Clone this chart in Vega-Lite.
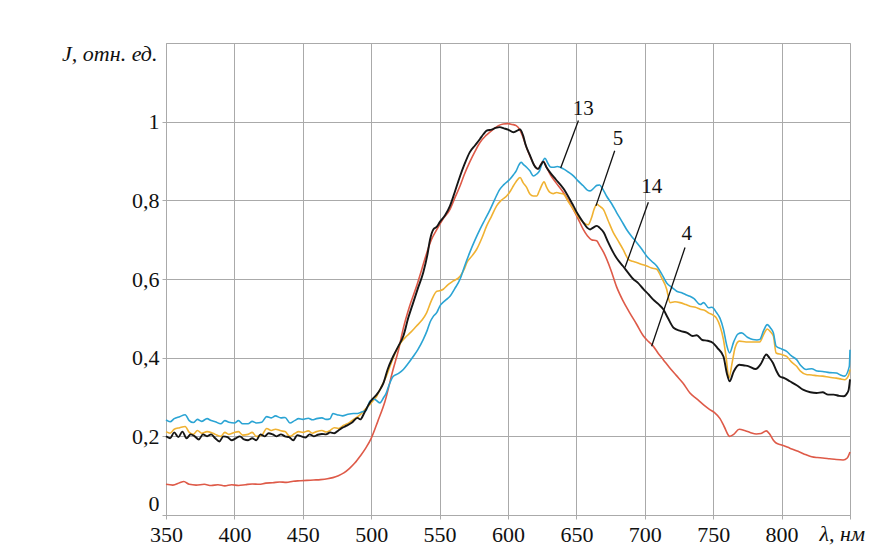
{
  "$schema": "https://vega.github.io/schema/vega-lite/v6.json",
  "width": 684,
  "height": 472,
  "autosize": {"type": "none"},
  "padding": {"left": 166, "top": 43, "right": 29, "bottom": 43},
  "background": "white",
  "config": {
    "font": "Liberation Serif",
    "view": {"stroke": "#aaaaaa", "strokeWidth": 1},
    "axis": {
      "gridColor": "#aaaaaa",
      "gridOpacity": 1,
      "domainColor": "#aaaaaa",
      "tickColor": "#aaaaaa",
      "tickSize": 4,
      "labelFont": "Liberation Serif",
      "labelFontSize": 22,
      "labelColor": "#111111",
      "titleFont": "Liberation Serif",
      "titleFontSize": 22,
      "titleColor": "#111111",
      "titleFontWeight": "normal"
    }
  },
  "datasets": {
    "curves": [
      {"s":"4","x":350,"y":0.078},{"s":"4","x":355,"y":0.076},{"s":"4","x":360,"y":0.082},{"s":"4","x":363,"y":0.085},{"s":"4","x":367,"y":0.078},{"s":"4","x":372,"y":0.076},{"s":"4","x":378,"y":0.078},{"s":"4","x":383,"y":0.075},{"s":"4","x":388,"y":0.077},{"s":"4","x":393,"y":0.074},{"s":"4","x":398,"y":0.077},{"s":"4","x":403,"y":0.075},{"s":"4","x":408,"y":0.077},{"s":"4","x":413,"y":0.079},{"s":"4","x":418,"y":0.078},{"s":"4","x":423,"y":0.081},{"s":"4","x":428,"y":0.082},{"s":"4","x":433,"y":0.084},{"s":"4","x":438,"y":0.083},{"s":"4","x":443,"y":0.086},{"s":"4","x":448,"y":0.087},{"s":"4","x":453,"y":0.088},{"s":"4","x":458,"y":0.089},{"s":"4","x":463,"y":0.09},{"s":"4","x":468,"y":0.092},{"s":"4","x":472,"y":0.095},{"s":"4","x":476,"y":0.1},{"s":"4","x":480,"y":0.107},{"s":"4","x":484,"y":0.118},{"s":"4","x":488,"y":0.132},{"s":"4","x":492,"y":0.15},{"s":"4","x":496,"y":0.17},{"s":"4","x":500,"y":0.195},{"s":"4","x":505,"y":0.24},{"s":"4","x":510,"y":0.288},{"s":"4","x":516,"y":0.37},{"s":"4","x":520,"y":0.42},{"s":"4","x":523.5,"y":0.475},{"s":"4","x":528,"y":0.53},{"s":"4","x":533,"y":0.58},{"s":"4","x":537,"y":0.625},{"s":"4","x":540.5,"y":0.665},{"s":"4","x":544,"y":0.7},{"s":"4","x":548,"y":0.726},{"s":"4","x":552,"y":0.75},{"s":"4","x":557.6,"y":0.777},{"s":"4","x":561,"y":0.805},{"s":"4","x":565,"y":0.837},{"s":"4","x":568,"y":0.865},{"s":"4","x":572,"y":0.897},{"s":"4","x":576,"y":0.925},{"s":"4","x":579.5,"y":0.947},{"s":"4","x":584,"y":0.965},{"s":"4","x":589,"y":0.98},{"s":"4","x":593,"y":0.99},{"s":"4","x":596.5,"y":0.994},{"s":"4","x":600,"y":0.995},{"s":"4","x":603,"y":0.993},{"s":"4","x":606,"y":0.99},{"s":"4","x":608.6,"y":0.98},{"s":"4","x":611,"y":0.96},{"s":"4","x":614,"y":0.93},{"s":"4","x":617,"y":0.905},{"s":"4","x":620,"y":0.885},{"s":"4","x":622,"y":0.88},{"s":"4","x":625.8,"y":0.9},{"s":"4","x":628,"y":0.885},{"s":"4","x":631,"y":0.865},{"s":"4","x":635,"y":0.845},{"s":"4","x":640.5,"y":0.82},{"s":"4","x":644,"y":0.8},{"s":"4","x":647.7,"y":0.777},{"s":"4","x":651,"y":0.755},{"s":"4","x":655,"y":0.726},{"s":"4","x":658,"y":0.71},{"s":"4","x":661,"y":0.7},{"s":"4","x":664.8,"y":0.697},{"s":"4","x":667,"y":0.685},{"s":"4","x":670,"y":0.667},{"s":"4","x":675,"y":0.625},{"s":"4","x":679.4,"y":0.58},{"s":"4","x":684,"y":0.545},{"s":"4","x":689,"y":0.514},{"s":"4","x":694,"y":0.485},{"s":"4","x":699,"y":0.455},{"s":"4","x":703,"y":0.44},{"s":"4","x":706,"y":0.43},{"s":"4","x":710,"y":0.41},{"s":"4","x":713.5,"y":0.395},{"s":"4","x":718,"y":0.375},{"s":"4","x":723,"y":0.355},{"s":"4","x":728,"y":0.335},{"s":"4","x":733,"y":0.31},{"s":"4","x":738,"y":0.295},{"s":"4","x":743,"y":0.28},{"s":"4","x":747.5,"y":0.268},{"s":"4","x":751,"y":0.26},{"s":"4","x":755,"y":0.245},{"s":"4","x":758,"y":0.225},{"s":"4","x":762,"y":0.2},{"s":"4","x":765,"y":0.205},{"s":"4","x":769,"y":0.218},{"s":"4","x":773,"y":0.215},{"s":"4","x":777,"y":0.21},{"s":"4","x":781.5,"y":0.206},{"s":"4","x":785,"y":0.207},{"s":"4","x":788.8,"y":0.214},{"s":"4","x":791,"y":0.207},{"s":"4","x":794,"y":0.19},{"s":"4","x":796,"y":0.183},{"s":"4","x":800,"y":0.178},{"s":"4","x":806,"y":0.17},{"s":"4","x":812,"y":0.162},{"s":"4","x":818,"y":0.153},{"s":"4","x":822,"y":0.148},{"s":"4","x":826,"y":0.146},{"s":"4","x":830,"y":0.145},{"s":"4","x":835,"y":0.143},{"s":"4","x":840,"y":0.141},{"s":"4","x":845,"y":0.14},{"s":"4","x":848,"y":0.145},{"s":"4","x":850,"y":0.16},

      {"s":"5","x":350,"y":0.212},{"s":"5","x":353,"y":0.208},{"s":"5","x":356,"y":0.218},{"s":"5","x":360,"y":0.222},{"s":"5","x":364,"y":0.225},{"s":"5","x":367,"y":0.21},{"s":"5","x":370,"y":0.205},{"s":"5","x":373,"y":0.215},{"s":"5","x":376,"y":0.208},{"s":"5","x":380,"y":0.212},{"s":"5","x":383,"y":0.21},{"s":"5","x":386,"y":0.205},{"s":"5","x":390,"y":0.2},{"s":"5","x":393,"y":0.21},{"s":"5","x":396,"y":0.205},{"s":"5","x":400,"y":0.21},{"s":"5","x":403,"y":0.212},{"s":"5","x":406,"y":0.203},{"s":"5","x":410,"y":0.205},{"s":"5","x":413,"y":0.21},{"s":"5","x":416,"y":0.2},{"s":"5","x":420,"y":0.203},{"s":"5","x":423.6,"y":0.22},{"s":"5","x":427,"y":0.215},{"s":"5","x":430,"y":0.218},{"s":"5","x":434,"y":0.214},{"s":"5","x":437,"y":0.212},{"s":"5","x":440.6,"y":0.2},{"s":"5","x":444,"y":0.207},{"s":"5","x":447,"y":0.212},{"s":"5","x":450,"y":0.21},{"s":"5","x":454,"y":0.214},{"s":"5","x":457,"y":0.208},{"s":"5","x":460,"y":0.212},{"s":"5","x":464,"y":0.215},{"s":"5","x":467,"y":0.211},{"s":"5","x":470,"y":0.215},{"s":"5","x":473,"y":0.222},{"s":"5","x":476,"y":0.22},{"s":"5","x":480,"y":0.228},{"s":"5","x":484,"y":0.235},{"s":"5","x":488,"y":0.245},{"s":"5","x":492,"y":0.255},{"s":"5","x":496,"y":0.27},{"s":"5","x":500,"y":0.285},{"s":"5","x":504,"y":0.302},{"s":"5","x":508,"y":0.33},{"s":"5","x":511,"y":0.352},{"s":"5","x":515,"y":0.39},{"s":"5","x":518.6,"y":0.42},{"s":"5","x":522,"y":0.44},{"s":"5","x":526,"y":0.455},{"s":"5","x":529,"y":0.465},{"s":"5","x":533,"y":0.48},{"s":"5","x":537,"y":0.495},{"s":"5","x":540.5,"y":0.514},{"s":"5","x":544,"y":0.545},{"s":"5","x":548,"y":0.569},{"s":"5","x":550,"y":0.57},{"s":"5","x":552.7,"y":0.574},{"s":"5","x":556,"y":0.585},{"s":"5","x":560,"y":0.595},{"s":"5","x":565,"y":0.607},{"s":"5","x":568,"y":0.625},{"s":"5","x":570,"y":0.642},{"s":"5","x":574,"y":0.66},{"s":"5","x":577,"y":0.675},{"s":"5","x":581,"y":0.705},{"s":"5","x":584.4,"y":0.735},{"s":"5","x":588,"y":0.76},{"s":"5","x":591.7,"y":0.786},{"s":"5","x":595,"y":0.8},{"s":"5","x":599,"y":0.811},{"s":"5","x":602,"y":0.825},{"s":"5","x":604,"y":0.837},{"s":"5","x":606,"y":0.848},{"s":"5","x":608.8,"y":0.858},{"s":"5","x":611,"y":0.845},{"s":"5","x":613.6,"y":0.833},{"s":"5","x":616,"y":0.816},{"s":"5","x":618.5,"y":0.811},{"s":"5","x":621,"y":0.811},{"s":"5","x":623,"y":0.825},{"s":"5","x":626.4,"y":0.847},{"s":"5","x":628,"y":0.835},{"s":"5","x":630.7,"y":0.82},{"s":"5","x":633,"y":0.817},{"s":"5","x":635.6,"y":0.82},{"s":"5","x":638,"y":0.818},{"s":"5","x":640.5,"y":0.816},{"s":"5","x":644,"y":0.797},{"s":"5","x":647.8,"y":0.777},{"s":"5","x":651,"y":0.76},{"s":"5","x":655,"y":0.744},{"s":"5","x":658.6,"y":0.738},{"s":"5","x":661,"y":0.755},{"s":"5","x":663,"y":0.778},{"s":"5","x":665,"y":0.79},{"s":"5","x":667,"y":0.785},{"s":"5","x":669.7,"y":0.777},{"s":"5","x":673,"y":0.75},{"s":"5","x":677,"y":0.718},{"s":"5","x":680,"y":0.7},{"s":"5","x":684,"y":0.676},{"s":"5","x":688,"y":0.65},{"s":"5","x":691,"y":0.645},{"s":"5","x":694,"y":0.642},{"s":"5","x":698,"y":0.637},{"s":"5","x":701.4,"y":0.633},{"s":"5","x":705,"y":0.628},{"s":"5","x":708.7,"y":0.625},{"s":"5","x":712,"y":0.605},{"s":"5","x":716,"y":0.574},{"s":"5","x":718.4,"y":0.54},{"s":"5","x":722,"y":0.542},{"s":"5","x":725.7,"y":0.54},{"s":"5","x":730,"y":0.535},{"s":"5","x":733,"y":0.531},{"s":"5","x":737,"y":0.528},{"s":"5","x":740.5,"y":0.523},{"s":"5","x":744,"y":0.52},{"s":"5","x":746.6,"y":0.514},{"s":"5","x":750,"y":0.508},{"s":"5","x":752.5,"y":0.5},{"s":"5","x":755,"y":0.48},{"s":"5","x":757.5,"y":0.446},{"s":"5","x":759.5,"y":0.4},{"s":"5","x":761.5,"y":0.348},{"s":"5","x":764,"y":0.39},{"s":"5","x":766,"y":0.425},{"s":"5","x":769,"y":0.442},{"s":"5","x":774,"y":0.44},{"s":"5","x":779,"y":0.44},{"s":"5","x":784,"y":0.44},{"s":"5","x":787,"y":0.46},{"s":"5","x":789.5,"y":0.473},{"s":"5","x":792,"y":0.465},{"s":"5","x":794,"y":0.455},{"s":"5","x":796,"y":0.412},{"s":"5","x":800,"y":0.408},{"s":"5","x":803.7,"y":0.403},{"s":"5","x":807,"y":0.39},{"s":"5","x":811,"y":0.378},{"s":"5","x":814,"y":0.365},{"s":"5","x":818,"y":0.357},{"s":"5","x":822,"y":0.356},{"s":"5","x":826,"y":0.354},{"s":"5","x":830,"y":0.353},{"s":"5","x":835,"y":0.35},{"s":"5","x":840,"y":0.348},{"s":"5","x":843,"y":0.346},{"s":"5","x":846,"y":0.344},{"s":"5","x":849,"y":0.355},{"s":"5","x":850,"y":0.37},

      {"s":"13","x":350,"y":0.242},{"s":"13","x":353,"y":0.237},{"s":"13","x":356,"y":0.245},{"s":"13","x":360,"y":0.25},{"s":"13","x":364,"y":0.255},{"s":"13","x":367,"y":0.24},{"s":"13","x":370,"y":0.235},{"s":"13","x":373,"y":0.243},{"s":"13","x":376,"y":0.238},{"s":"13","x":380,"y":0.245},{"s":"13","x":383,"y":0.24},{"s":"13","x":386,"y":0.237},{"s":"13","x":390,"y":0.232},{"s":"13","x":393,"y":0.24},{"s":"13","x":396,"y":0.236},{"s":"13","x":400,"y":0.234},{"s":"13","x":403,"y":0.24},{"s":"13","x":406,"y":0.232},{"s":"13","x":410,"y":0.232},{"s":"13","x":413,"y":0.238},{"s":"13","x":416,"y":0.234},{"s":"13","x":420,"y":0.236},{"s":"13","x":423.6,"y":0.25},{"s":"13","x":427,"y":0.247},{"s":"13","x":430,"y":0.252},{"s":"13","x":434,"y":0.247},{"s":"13","x":437,"y":0.248},{"s":"13","x":440.6,"y":0.234},{"s":"13","x":444,"y":0.24},{"s":"13","x":447,"y":0.245},{"s":"13","x":450,"y":0.243},{"s":"13","x":454,"y":0.246},{"s":"13","x":457,"y":0.242},{"s":"13","x":460,"y":0.245},{"s":"13","x":464,"y":0.247},{"s":"13","x":467,"y":0.243},{"s":"13","x":470,"y":0.245},{"s":"13","x":472,"y":0.258},{"s":"13","x":475,"y":0.255},{"s":"13","x":479,"y":0.252},{"s":"13","x":483,"y":0.256},{"s":"13","x":487,"y":0.258},{"s":"13","x":490,"y":0.258},{"s":"13","x":493,"y":0.262},{"s":"13","x":496,"y":0.265},{"s":"13","x":499,"y":0.289},{"s":"13","x":502,"y":0.295},{"s":"13","x":506.4,"y":0.285},{"s":"13","x":509,"y":0.298},{"s":"13","x":511,"y":0.31},{"s":"13","x":513,"y":0.33},{"s":"13","x":516,"y":0.352},{"s":"13","x":520,"y":0.36},{"s":"13","x":523.5,"y":0.37},{"s":"13","x":527,"y":0.385},{"s":"13","x":530.7,"y":0.403},{"s":"13","x":534,"y":0.42},{"s":"13","x":538,"y":0.446},{"s":"13","x":541,"y":0.47},{"s":"13","x":543,"y":0.49},{"s":"13","x":545.4,"y":0.505},{"s":"13","x":548,"y":0.515},{"s":"13","x":550,"y":0.53},{"s":"13","x":554,"y":0.545},{"s":"13","x":557.6,"y":0.556},{"s":"13","x":561,"y":0.575},{"s":"13","x":565,"y":0.6},{"s":"13","x":568,"y":0.63},{"s":"13","x":572,"y":0.667},{"s":"13","x":576,"y":0.7},{"s":"13","x":579.5,"y":0.726},{"s":"13","x":583,"y":0.75},{"s":"13","x":587,"y":0.777},{"s":"13","x":590,"y":0.8},{"s":"13","x":594,"y":0.828},{"s":"13","x":597,"y":0.84},{"s":"13","x":601.5,"y":0.854},{"s":"13","x":604,"y":0.865},{"s":"13","x":606,"y":0.875},{"s":"13","x":608,"y":0.89},{"s":"13","x":609.6,"y":0.897},{"s":"13","x":611,"y":0.892},{"s":"13","x":613.6,"y":0.884},{"s":"13","x":616,"y":0.875},{"s":"13","x":618.5,"y":0.862},{"s":"13","x":621,"y":0.867},{"s":"13","x":623,"y":0.875},{"s":"13","x":625,"y":0.895},{"s":"13","x":627,"y":0.907},{"s":"13","x":629,"y":0.895},{"s":"13","x":631,"y":0.885},{"s":"13","x":633,"y":0.884},{"s":"13","x":636,"y":0.886},{"s":"13","x":640.5,"y":0.88},{"s":"13","x":644,"y":0.872},{"s":"13","x":647.8,"y":0.862},{"s":"13","x":651,"y":0.85},{"s":"13","x":655,"y":0.837},{"s":"13","x":658,"y":0.826},{"s":"13","x":660,"y":0.824},{"s":"13","x":663,"y":0.832},{"s":"13","x":665,"y":0.838},{"s":"13","x":667,"y":0.839},{"s":"13","x":669,"y":0.83},{"s":"13","x":672,"y":0.811},{"s":"13","x":676,"y":0.79},{"s":"13","x":679.4,"y":0.769},{"s":"13","x":683,"y":0.748},{"s":"13","x":686.7,"y":0.726},{"s":"13","x":690,"y":0.71},{"s":"13","x":694,"y":0.693},{"s":"13","x":698,"y":0.675},{"s":"13","x":701.4,"y":0.658},{"s":"13","x":705,"y":0.645},{"s":"13","x":708.7,"y":0.633},{"s":"13","x":712,"y":0.615},{"s":"13","x":716,"y":0.59},{"s":"13","x":720,"y":0.578},{"s":"13","x":723.3,"y":0.569},{"s":"13","x":727,"y":0.565},{"s":"13","x":730,"y":0.56},{"s":"13","x":733,"y":0.556},{"s":"13","x":736,"y":0.55},{"s":"13","x":740.5,"y":0.535},{"s":"13","x":743,"y":0.54},{"s":"13","x":746.6,"y":0.527},{"s":"13","x":749,"y":0.528},{"s":"13","x":752.5,"y":0.514},{"s":"13","x":755,"y":0.5},{"s":"13","x":757.5,"y":0.472},{"s":"13","x":760,"y":0.43},{"s":"13","x":762,"y":0.412},{"s":"13","x":765,"y":0.44},{"s":"13","x":768,"y":0.46},{"s":"13","x":770.8,"y":0.463},{"s":"13","x":775,"y":0.452},{"s":"13","x":779,"y":0.446},{"s":"13","x":782,"y":0.445},{"s":"13","x":784,"y":0.446},{"s":"13","x":787,"y":0.47},{"s":"13","x":789.5,"y":0.484},{"s":"13","x":792,"y":0.475},{"s":"13","x":794,"y":0.463},{"s":"13","x":796,"y":0.429},{"s":"13","x":800,"y":0.422},{"s":"13","x":803.7,"y":0.416},{"s":"13","x":807,"y":0.405},{"s":"13","x":811,"y":0.395},{"s":"13","x":814,"y":0.38},{"s":"13","x":818,"y":0.37},{"s":"13","x":822,"y":0.372},{"s":"13","x":826,"y":0.366},{"s":"13","x":830,"y":0.365},{"s":"13","x":835,"y":0.362},{"s":"13","x":840,"y":0.361},{"s":"13","x":843,"y":0.356},{"s":"13","x":846,"y":0.353},{"s":"13","x":849.5,"y":0.378},{"s":"13","x":850,"y":0.42},

      {"s":"14","x":350,"y":0.2},{"s":"14","x":353,"y":0.195},{"s":"14","x":356,"y":0.21},{"s":"14","x":359,"y":0.198},{"s":"14","x":362,"y":0.212},{"s":"14","x":365,"y":0.195},{"s":"14","x":368,"y":0.205},{"s":"14","x":371,"y":0.2},{"s":"14","x":374,"y":0.192},{"s":"14","x":377,"y":0.205},{"s":"14","x":380,"y":0.2},{"s":"14","x":383,"y":0.205},{"s":"14","x":386,"y":0.195},{"s":"14","x":389,"y":0.187},{"s":"14","x":392,"y":0.2},{"s":"14","x":395,"y":0.198},{"s":"14","x":398,"y":0.19},{"s":"14","x":401,"y":0.195},{"s":"14","x":404,"y":0.2},{"s":"14","x":407,"y":0.192},{"s":"14","x":410,"y":0.19},{"s":"14","x":413,"y":0.195},{"s":"14","x":416,"y":0.19},{"s":"14","x":419,"y":0.205},{"s":"14","x":422,"y":0.2},{"s":"14","x":425,"y":0.208},{"s":"14","x":428,"y":0.205},{"s":"14","x":431,"y":0.2},{"s":"14","x":434,"y":0.205},{"s":"14","x":437,"y":0.2},{"s":"14","x":440,"y":0.198},{"s":"14","x":443,"y":0.19},{"s":"14","x":446,"y":0.203},{"s":"14","x":449,"y":0.2},{"s":"14","x":452,"y":0.197},{"s":"14","x":455,"y":0.205},{"s":"14","x":458,"y":0.2},{"s":"14","x":461,"y":0.204},{"s":"14","x":464,"y":0.206},{"s":"14","x":467,"y":0.205},{"s":"14","x":470,"y":0.21},{"s":"14","x":473,"y":0.208},{"s":"14","x":476,"y":0.215},{"s":"14","x":479,"y":0.222},{"s":"14","x":482,"y":0.227},{"s":"14","x":486,"y":0.235},{"s":"14","x":490,"y":0.247},{"s":"14","x":492,"y":0.243},{"s":"14","x":495,"y":0.26},{"s":"14","x":498,"y":0.28},{"s":"14","x":501,"y":0.295},{"s":"14","x":504,"y":0.306},{"s":"14","x":507,"y":0.322},{"s":"14","x":509,"y":0.336},{"s":"14","x":512,"y":0.37},{"s":"14","x":516,"y":0.403},{"s":"14","x":520,"y":0.43},{"s":"14","x":523.5,"y":0.455},{"s":"14","x":527,"y":0.5},{"s":"14","x":530.7,"y":0.54},{"s":"14","x":534,"y":0.575},{"s":"14","x":538,"y":0.616},{"s":"14","x":541,"y":0.66},{"s":"14","x":543,"y":0.7},{"s":"14","x":545.4,"y":0.726},{"s":"14","x":548,"y":0.733},{"s":"14","x":550,"y":0.744},{"s":"14","x":554,"y":0.762},{"s":"14","x":557.6,"y":0.786},{"s":"14","x":561,"y":0.82},{"s":"14","x":565,"y":0.862},{"s":"14","x":568,"y":0.89},{"s":"14","x":572,"y":0.922},{"s":"14","x":576,"y":0.94},{"s":"14","x":579.5,"y":0.956},{"s":"14","x":582,"y":0.968},{"s":"14","x":584.4,"y":0.977},{"s":"14","x":588,"y":0.98},{"s":"14","x":591,"y":0.984},{"s":"14","x":594,"y":0.986},{"s":"14","x":597,"y":0.983},{"s":"14","x":600,"y":0.98},{"s":"14","x":604,"y":0.973},{"s":"14","x":606,"y":0.976},{"s":"14","x":608.8,"y":0.98},{"s":"14","x":611,"y":0.965},{"s":"14","x":613,"y":0.94},{"s":"14","x":616,"y":0.915},{"s":"14","x":619,"y":0.89},{"s":"14","x":622,"y":0.88},{"s":"14","x":624,"y":0.89},{"s":"14","x":625.8,"y":0.898},{"s":"14","x":628,"y":0.885},{"s":"14","x":630.7,"y":0.871},{"s":"14","x":635,"y":0.853},{"s":"14","x":640.5,"y":0.83},{"s":"14","x":644,"y":0.81},{"s":"14","x":647.8,"y":0.786},{"s":"14","x":651,"y":0.765},{"s":"14","x":655,"y":0.744},{"s":"14","x":658,"y":0.73},{"s":"14","x":660,"y":0.726},{"s":"14","x":662,"y":0.73},{"s":"14","x":665,"y":0.735},{"s":"14","x":667,"y":0.73},{"s":"14","x":670,"y":0.718},{"s":"14","x":673,"y":0.695},{"s":"14","x":677,"y":0.667},{"s":"14","x":680,"y":0.65},{"s":"14","x":684,"y":0.633},{"s":"14","x":688,"y":0.615},{"s":"14","x":691.5,"y":0.6},{"s":"14","x":695,"y":0.59},{"s":"14","x":699,"y":0.574},{"s":"14","x":703,"y":0.56},{"s":"14","x":706,"y":0.548},{"s":"14","x":710,"y":0.536},{"s":"14","x":713.5,"y":0.523},{"s":"14","x":717,"y":0.5},{"s":"14","x":721,"y":0.476},{"s":"14","x":726,"y":0.468},{"s":"14","x":731,"y":0.463},{"s":"14","x":735,"y":0.455},{"s":"14","x":738,"y":0.457},{"s":"14","x":742,"y":0.445},{"s":"14","x":746,"y":0.443},{"s":"14","x":750,"y":0.437},{"s":"14","x":753,"y":0.425},{"s":"14","x":757.5,"y":0.403},{"s":"14","x":760,"y":0.36},{"s":"14","x":762,"y":0.34},{"s":"14","x":765,"y":0.365},{"s":"14","x":769,"y":0.382},{"s":"14","x":773,"y":0.38},{"s":"14","x":776,"y":0.378},{"s":"14","x":781,"y":0.371},{"s":"14","x":785,"y":0.385},{"s":"14","x":788.8,"y":0.408},{"s":"14","x":791,"y":0.4},{"s":"14","x":793.6,"y":0.387},{"s":"14","x":796,"y":0.368},{"s":"14","x":798.5,"y":0.353},{"s":"14","x":802,"y":0.348},{"s":"14","x":806,"y":0.34},{"s":"14","x":811,"y":0.33},{"s":"14","x":816,"y":0.318},{"s":"14","x":821,"y":0.312},{"s":"14","x":825.6,"y":0.31},{"s":"14","x":830,"y":0.312},{"s":"14","x":834,"y":0.306},{"s":"14","x":838,"y":0.306},{"s":"14","x":842,"y":0.303},{"s":"14","x":845.5,"y":0.302},{"s":"14","x":848,"y":0.31},{"s":"14","x":849,"y":0.318},{"s":"14","x":850,"y":0.345}
    ],
    "labels": [
      {"t":"13","x":655,"y":1.032,"x1":651.5,"y1":1.003,"x2":638.5,"y2":0.882},
      {"t":"5","x":680.4,"y":0.956,"x1":678,"y1":0.926,"x2":664.3,"y2":0.786},
      {"t":"14","x":705,"y":0.833,"x1":702.6,"y1":0.795,"x2":685.5,"y2":0.629},
      {"t":"4","x":730.6,"y":0.714,"x1":729.4,"y1":0.68,"x2":705,"y2":0.429}
    ]
  },
  "encoding": {
    "x": {
      "field": "x", "type": "quantitative",
      "scale": {"domain": [350, 850], "nice": false, "zero": false},
      "axis": {
        "values": [350,400,450,500,550,600,650,700,750,800,850],
        "labelExpr": "datum.value == 850 ? '' : datum.label",
        "labelFlush": false,
        "labelPadding": 5,
        "title": "λ, нм",
        "titleFontStyle": "italic",
        "titleAlign": "left",
        "titleBaseline": "middle",
        "titleX": 653,
        "titleY": 18
      }
    },
    "y": {
      "field": "y", "type": "quantitative",
      "scale": {"domain": [0, 1.2], "nice": false},
      "axis": {
        "values": [0,0.2,0.4,0.6,0.8,1],
        "labelExpr": "replace(format(datum.value, '~g'), '.', ',')",
        "labelFlush": true,
        "labelPadding": 3,
        "title": "J, отн. ед.",
        "titleFontStyle": "italic",
        "titleAngle": 0,
        "titleAlign": "right",
        "titleBaseline": "middle",
        "titleX": -9,
        "titleY": 10
      }
    }
  },
  "layer": [
    {
      "data": {"name": "curves"},
      "transform": [{"filter": "datum.s == '4'"}],
      "mark": {"type": "line", "color": "#de5a48", "strokeWidth": 1.6, "interpolate": "monotone"}
    },
    {
      "data": {"name": "curves"},
      "transform": [{"filter": "datum.s == '5'"}],
      "mark": {"type": "line", "color": "#f0b232", "strokeWidth": 1.6, "interpolate": "monotone"}
    },
    {
      "data": {"name": "curves"},
      "transform": [{"filter": "datum.s == '13'"}],
      "mark": {"type": "line", "color": "#2ba4d4", "strokeWidth": 1.6, "interpolate": "monotone"}
    },
    {
      "data": {"name": "curves"},
      "transform": [{"filter": "datum.s == '14'"}],
      "mark": {"type": "line", "color": "#161616", "strokeWidth": 1.9, "interpolate": "monotone"}
    },
    {
      "data": {"name": "labels"},
      "mark": {"type": "rule", "color": "#111111", "strokeWidth": 1.3},
      "encoding": {
        "x": {"field": "x1", "type": "quantitative"},
        "y": {"field": "y1", "type": "quantitative"},
        "x2": {"field": "x2"},
        "y2": {"field": "y2"}
      }
    },
    {
      "data": {"name": "labels"},
      "mark": {"type": "text", "font": "Liberation Serif", "fontSize": 21, "color": "#111111", "align": "center", "baseline": "middle"},
      "encoding": {
        "text": {"field": "t"}
      }
    }
  ]
}
